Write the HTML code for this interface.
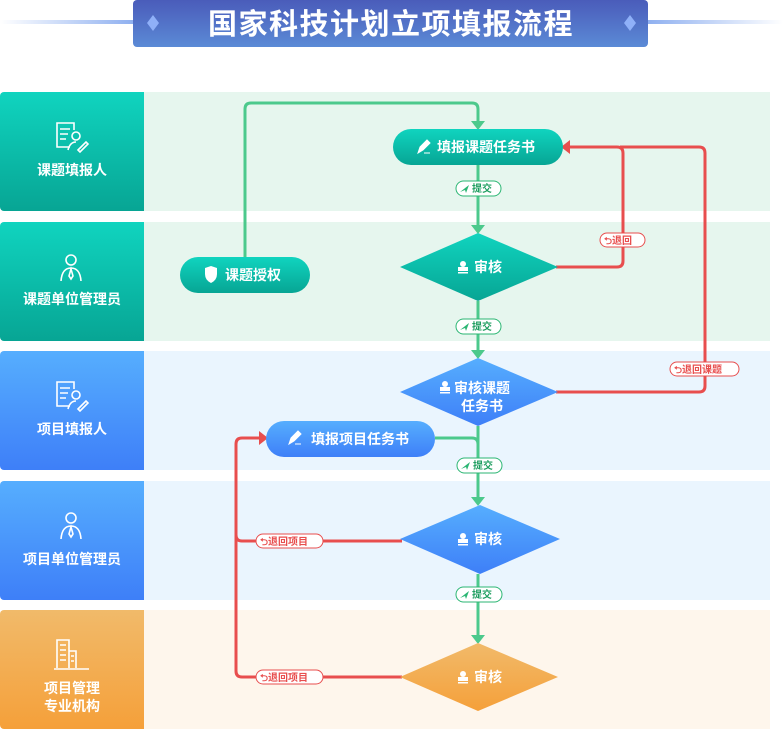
<!DOCTYPE html>
<html><head><meta charset="utf-8">
<style>
html,body{margin:0;padding:0;background:#fff;}
body{width:783px;height:731px;overflow:hidden;}
svg text{font-family:"Liberation Sans","Noto Sans CJK SC",sans-serif;font-weight:bold;}
</style></head>
<body>
<svg width="783" height="731" viewBox="0 0 783 731" xmlns="http://www.w3.org/2000/svg">
<defs>
<linearGradient id="tg" x1="0" y1="0" x2="0" y2="1"><stop offset="0" stop-color="#4a5cba"/><stop offset="1" stop-color="#5b8ad6"/></linearGradient>
<linearGradient id="ll" x1="0" y1="0" x2="1" y2="0"><stop offset="0" stop-color="#fff"/><stop offset="1" stop-color="#8fb0f0"/></linearGradient>
<linearGradient id="lr" x1="0" y1="0" x2="1" y2="0"><stop offset="0" stop-color="#8fb0f0"/><stop offset="1" stop-color="#fff"/></linearGradient>
<linearGradient id="teal" x1="0" y1="0" x2="0" y2="1"><stop offset="0" stop-color="#10d4bf"/><stop offset="1" stop-color="#07a594"/></linearGradient>
<linearGradient id="blue" x1="0" y1="0" x2="0" y2="1"><stop offset="0" stop-color="#56aefe"/><stop offset="1" stop-color="#3e7ff8"/></linearGradient>
<linearGradient id="orange" x1="0" y1="0" x2="0" y2="1"><stop offset="0" stop-color="#f1ba6a"/><stop offset="1" stop-color="#f5a03a"/></linearGradient>
</defs>
<!-- title -->
<rect x="0" y="20" width="133" height="4" fill="url(#ll)"/>
<rect x="648" y="20" width="135" height="4" fill="url(#lr)"/>
<rect x="133" y="0" width="515" height="47" rx="4" fill="url(#tg)"/>
<path d="M153 15 L159 23 L153 31 L147 23Z" fill="#8fb0f8"/>
<path d="M630 15 L636 23 L630 31 L624 23Z" fill="#8fb0f8"/>
<text x="391" y="34" font-size="29" fill="#fff" text-anchor="middle" letter-spacing="1.5">国家科技计划立项填报流程</text>

<!-- lanes -->
<rect x="144" y="92" width="626" height="119" fill="#e6f6ee"/>
<rect x="144" y="222" width="626" height="119" fill="#e6f6ee"/>
<rect x="144" y="351" width="626" height="119" fill="#eaf5fe"/>
<rect x="144" y="481" width="626" height="119" fill="#eaf5fe"/>
<rect x="144" y="610" width="626" height="119" fill="#fef6ec"/>
<path d="M4 92 H144 V211 H4 A4 4 0 0 1 0 207 V96 A4 4 0 0 1 4 92Z" fill="url(#teal)"/>
<path d="M4 222 H144 V341 H4 A4 4 0 0 1 0 337 V226 A4 4 0 0 1 4 222Z" fill="url(#teal)"/>
<path d="M4 351 H144 V470 H4 A4 4 0 0 1 0 466 V355 A4 4 0 0 1 4 351Z" fill="url(#blue)"/>
<path d="M4 481 H144 V600 H4 A4 4 0 0 1 0 596 V485 A4 4 0 0 1 4 481Z" fill="url(#blue)"/>
<path d="M4 610 H144 V729 H4 A4 4 0 0 1 0 725 V614 A4 4 0 0 1 4 610Z" fill="url(#orange)"/>

<!-- lane icons -->
<g fill="none" stroke="#fff" stroke-width="1.6">
<path d="M70 147 H57 V123 H74 V130"/><path d="M60 129 H70 M60 134 H68 M60 139 H66"/>
<circle cx="76" cy="136" r="4"/><path d="M68 150 Q70 142 76 142"/><path d="M78 150 L86 142 L88 144 L80 152Z"/>
<circle cx="71" cy="260" r="5"/><path d="M61 281 Q62 268 71 268 Q80 268 81 281"/><path d="M71 269 L69 276 L71 279 L73 276Z"/>
<path d="M70 406 H57 V382 H74 V389"/><path d="M60 388 H70 M60 393 H68 M60 398 H66"/>
<circle cx="76" cy="395" r="4"/><path d="M68 409 Q70 401 76 401"/><path d="M78 409 L86 401 L88 403 L80 411Z"/>
<circle cx="71" cy="518" r="5"/><path d="M61 539 Q62 526 71 526 Q80 526 81 539"/><path d="M71 527 L69 534 L71 537 L73 534Z"/>
<path d="M57 668 V640 H69 V668 M69 651 H76 V668 M54 669 H89"/><path d="M60 645 H66 M60 650 H66 M60 655 H66 M60 660 H66 M71 656 H74 M71 661 H74"/>
</g>
<g fill="#fff" font-size="14" text-anchor="middle">
<text x="72" y="175">课题填报人</text>
<text x="72" y="304">课题单位管理员</text>
<text x="72" y="434">项目填报人</text>
<text x="72" y="564">项目单位管理员</text>
<text x="72" y="693">项目管理</text>
<text x="72" y="711">专业机构</text>
</g>

<!-- connectors green -->
<g fill="none" stroke="#4cc98c" stroke-width="3">
<path d="M245 257 V109 Q245 103 251 103 H472 Q478 103 478 109 V122"/>
<path d="M478 165 V226"/>
<path d="M478 301 V351"/>
<path d="M435 438 H472 Q478 438 478 444 V426 M478 426 V498"/>
<path d="M478 574 V636"/>
</g>
<g fill="#4cc98c">
<path d="M471 121 H485 L478 130Z"/>
<path d="M471 225 H485 L478 234Z"/>
<path d="M471 350 H485 L478 359Z"/>
<path d="M471 497 H485 L478 506Z"/>
<path d="M471 635 H485 L478 644Z"/>
</g>
<!-- red -->
<g fill="none" stroke="#e84e4e" stroke-width="3">
<path d="M556 267 H617 Q623 267 623 261 V153 Q623 147 617 147 H568"/>
<path d="M556 392 H699 Q705 392 705 386 V153 Q705 147 699 147 H620"/>
<path d="M402 541 H242 Q236 541 236 535 V444 Q236 438 242 438 H260"/>
<path d="M402 677 H242 Q236 677 236 671 V535"/>
</g>
<g fill="#e84e4e">
<path d="M570 140 V154 L561 147Z"/>
<path d="M259 431 V445 L268 438Z"/>
</g>

<!-- nodes -->
<rect x="393" y="129" width="170" height="36" rx="18" fill="url(#teal)"/>
<text x="486" y="152" font-size="14" fill="#fff" text-anchor="middle">填报课题任务书</text>
<path d="M418 153 L420 147 L427 140 L430 143 L423 150Z M424 153 H430" fill="#fff" stroke="#fff" stroke-width="1"/>

<rect x="180" y="257" width="130" height="36" rx="18" fill="url(#teal)"/>
<path d="M205 268 L211 266 L217 268 V274 Q217 280 211 283 Q205 280 205 274Z" fill="#fff"/>
<text x="253" y="280" font-size="14" fill="#fff" text-anchor="middle">课题授权</text>

<path d="M478 233 L558 267 L478 301 L400 267Z" fill="url(#teal)"/>
<path d="M478 358 L558 392 L478 426 L400 392Z" fill="url(#blue)"/>
<path d="M480 505 L560 539 L480 574 L400 539Z" fill="url(#blue)"/>
<path d="M478 643 L558 677 L478 711 L400 677Z" fill="url(#orange)"/>
<g fill="#fff">
<circle cx="463" cy="264" r="3"/><rect x="458" y="267" width="10" height="4"/><rect x="458" y="272" width="10" height="1.5"/>
<circle cx="445" cy="384" r="3"/><rect x="440" y="387" width="10" height="4"/><rect x="440" y="392" width="10" height="1.5"/>
<circle cx="463" cy="536" r="3"/><rect x="458" y="539" width="10" height="4"/><rect x="458" y="544" width="10" height="1.5"/>
<circle cx="463" cy="674" r="3"/><rect x="458" y="677" width="10" height="4"/><rect x="458" y="682" width="10" height="1.5"/>
</g>
<g fill="#fff" font-size="14">
<text x="474" y="272">审核</text>
<text x="454" y="393">审核课题</text>
<text x="461" y="411">任务书</text>
<text x="474" y="544">审核</text>
<text x="474" y="682">审核</text>
</g>

<rect x="266" y="421" width="169" height="36" rx="18" fill="url(#blue)"/>
<path d="M289 444 L291 438 L298 431 L301 434 L294 441Z M295 444 H301" fill="#fff" stroke="#fff" stroke-width="1"/>
<text x="360" y="444" font-size="14" fill="#fff" text-anchor="middle">填报项目任务书</text>

<!-- labels -->
<g font-size="10">
<g><rect x="456" y="181" width="45" height="15" rx="7.5" fill="#fff" stroke="#2bb673"/><path d="M460 192 L469 185 L466 193 L465 190Z" fill="#2bb673"/><text x="472" y="192" fill="#1f9e60">提交</text></g>
<g><rect x="456" y="319" width="45" height="15" rx="7.5" fill="#fff" stroke="#2bb673"/><path d="M460 330 L469 323 L466 331 L465 328Z" fill="#2bb673"/><text x="472" y="330" fill="#1f9e60">提交</text></g>
<g><rect x="457" y="458" width="45" height="15" rx="7.5" fill="#fff" stroke="#2bb673"/><path d="M461 469 L470 462 L467 470 L466 467Z" fill="#2bb673"/><text x="473" y="469" fill="#1f9e60">提交</text></g>
<g><rect x="456" y="587" width="46" height="15" rx="7.5" fill="#fff" stroke="#2bb673"/><path d="M460 598 L469 591 L466 599 L465 596Z" fill="#2bb673"/><text x="472" y="598" fill="#1f9e60">提交</text></g>
<g><rect x="600" y="233" width="45" height="14" rx="7" fill="#fff" stroke="#e84e4e"/><text x="604" y="244" fill="#e84e4e">⮌退回</text></g>
<g><rect x="670" y="362" width="69" height="14" rx="7" fill="#fff" stroke="#e84e4e"/><text x="674" y="373" fill="#e84e4e">⮌退回课题</text></g>
<g><rect x="256" y="534" width="67" height="14" rx="7" fill="#fff" stroke="#e84e4e"/><text x="260" y="545" fill="#e84e4e">⮌退回项目</text></g>
<g><rect x="256" y="670" width="67" height="14" rx="7" fill="#fff" stroke="#e84e4e"/><text x="260" y="681" fill="#e84e4e">⮌退回项目</text></g>
</g>
</svg>
</body></html>
